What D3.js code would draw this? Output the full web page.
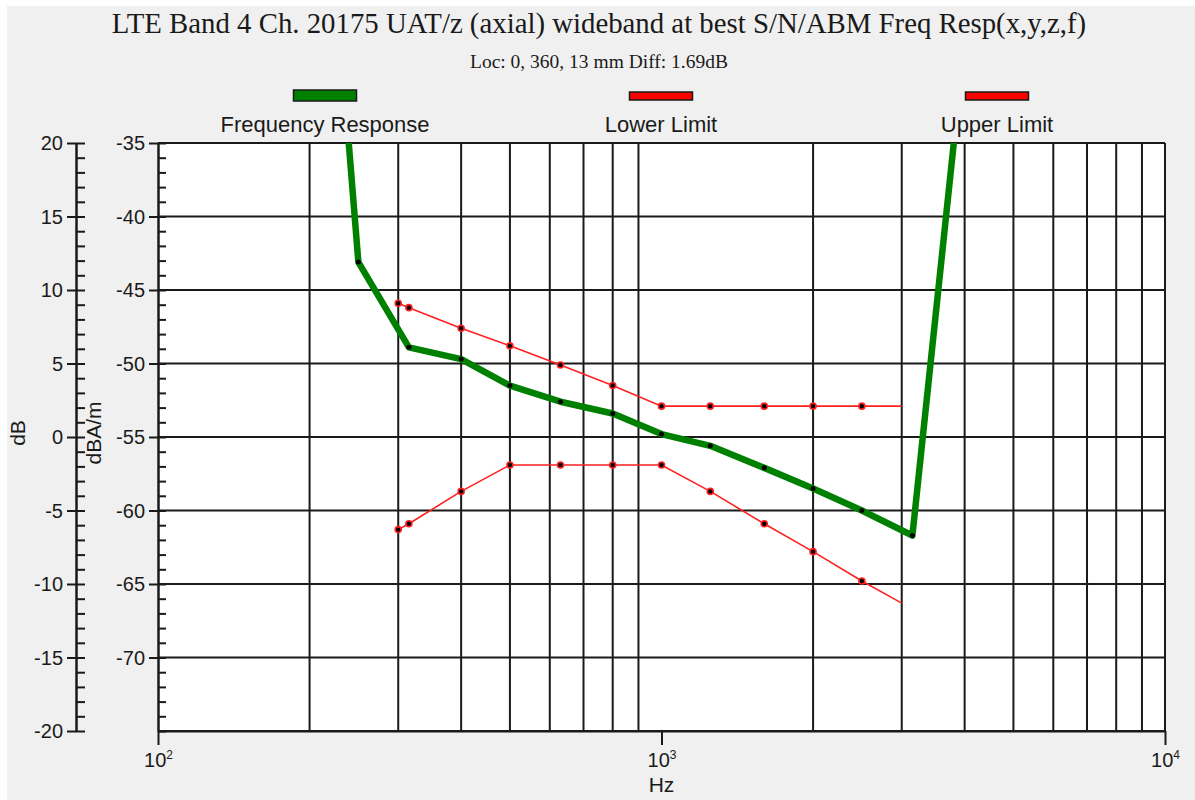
<!DOCTYPE html>
<html>
<head>
<meta charset="utf-8">
<script src="https://cdn.jsdelivr.net/npm/d3@7"></script>
<style>
  html, body { margin: 0; padding: 0; background: #ffffff; }
  svg { display: block; }
</style>
</head>
<body>
<svg id="chart" width="1195" height="800"></svg>
<script>
// ---------------- data ----------------
const titleText = "LTE Band 4 Ch. 20175 UAT/z (axial) wideband at best S/N/ABM Freq Resp(x,y,z,f)";
const subtitleText = "Loc: 0, 360, 13 mm Diff: 1.69dB";
const seriesNames = ["Frequency Response", "Lower Limit", "Upper Limit"];

const respFreq   = [200, 250, 315, 400, 500, 630, 800, 1000, 1250, 1600, 2000, 2500, 3150, 4000];
const respValues = [-2, -43.1, -48.9, -49.7, -51.5, -52.6, -53.4, -54.8, -55.6, -57.1, -58.5, -60.0, -61.7, -28];

const upperFreq   = [300, 315, 400, 500, 630, 800, 1000, 1250, 1600, 2000, 2500, 3000];
const upperValues = [-45.9, -46.2, -47.6, -48.8, -50.1, -51.5, -52.9, -52.9, -52.9, -52.9, -52.9, -52.9];

const lowerFreq   = [300, 315, 400, 500, 630, 800, 1000, 1250, 1600, 2000, 2500, 3000];
const lowerValues = [-61.3, -60.9, -58.7, -56.9, -56.9, -56.9, -56.9, -58.7, -60.9, -62.8, -64.8, -66.3];

const dBATicks = [-75, -70, -65, -60, -55, -50, -45, -40, -35];
const dBTicks  = [-20, -15, -10, -5, 0, 5, 10, 15, 20];
const decadeTicks = [100, 1000, 10000];
const decadeExp = ["2", "3", "4"];
const minorFreqTicks = [200, 300, 400, 500, 600, 700, 800, 900, 2000, 3000, 4000, 5000, 6000, 7000, 8000, 9000];

// ---------------- layout ----------------
const svg = d3.select("#chart");
const W = 1195, H = 800;
const plot = { left: 158, right: 1165, top: 143, bottom: 731 };
const sansFont = "'Liberation Sans', Arial, sans-serif";
const serifFont = "'Liberation Serif', 'Times New Roman', serif";
const textColor = "#1a1a1a";
const plainFmt = d => String(d);

svg.append("rect").attr("x", 7).attr("y", 6).attr("width", W - 7).attr("height", H - 6).attr("fill", "#f0f0f0");

const x = d3.scaleLog().domain([100, 10000]).range([plot.left, plot.right]);
const y = d3.scaleLinear().domain([-75, -35]).range([plot.bottom, plot.top]);
const yDb = d3.scaleLinear().domain([-20, 20]).range([plot.bottom, plot.top]);

// plot background
svg.append("rect").attr("x", plot.left).attr("y", plot.top)
  .attr("width", plot.right - plot.left).attr("height", plot.bottom - plot.top).attr("fill", "#ffffff");

// grid
const grid = svg.append("g").attr("stroke", "#1a1a1a").attr("stroke-width", 2);
grid.selectAll("line.v").data(minorFreqTicks.concat([10000])).enter().append("line")
  .attr("x1", d => x(d)).attr("x2", d => x(d)).attr("y1", plot.top).attr("y2", plot.bottom);
grid.selectAll("line.h").data(dBATicks).enter().append("line")
  .attr("x1", plot.left).attr("x2", plot.right).attr("y1", d => y(d)).attr("y2", d => y(d));

// clip
svg.append("clipPath").attr("id", "clip").append("rect")
  .attr("x", plot.left).attr("y", plot.top).attr("width", plot.right - plot.left).attr("height", plot.bottom - plot.top);

function styleAxis(g) {
  g.selectAll(".domain").attr("stroke", "#1a1a1a").attr("stroke-width", 2);
  g.selectAll(".tick line").attr("stroke", "#1a1a1a").attr("stroke-width", 2);
  g.selectAll(".tick text").attr("fill", textColor).attr("font-family", sansFont).attr("font-size", 20);
}

// left dB axis
const minorDb = d3.range(-20, 21, 1);
const gDbMinor = svg.append("g").attr("transform", "translate(76,0)")
  .call(d3.axisRight(yDb).tickValues(minorDb).tickSize(9).tickFormat("").tickSizeOuter(0));
styleAxis(gDbMinor);
const gDb = svg.append("g").attr("transform", "translate(76,0)")
  .call(d3.axisLeft(yDb).tickValues(dBTicks).tickSize(9).tickPadding(4).tickSizeOuter(0).tickFormat(plainFmt));
styleAxis(gDb);
gDb.selectAll(".tick text").attr("dy", "0.34em");

// right dBA/m axis (at plot left)
const minorDbA = d3.range(-75, -34, 1);
const gAMinor = svg.append("g").attr("transform", `translate(${plot.left},0)`)
  .call(d3.axisRight(y).tickValues(minorDbA).tickSize(8).tickFormat("").tickSizeOuter(0));
styleAxis(gAMinor);
const gA = svg.append("g").attr("transform", `translate(${plot.left},0)`)
  .call(d3.axisLeft(y).tickValues(dBATicks.filter(d => d !== -75)).tickSize(9).tickPadding(4).tickSizeOuter(0).tickFormat(plainFmt));
styleAxis(gA);
gA.selectAll(".tick text").attr("dy", "0.34em");

// bottom axis
const gX = svg.append("g").attr("transform", `translate(0,${plot.bottom})`)
  .call(d3.axisBottom(x).tickValues(decadeTicks).tickSize(14).tickPadding(6).tickSizeOuter(0).tickFormat(""));
styleAxis(gX);
gX.selectAll(".tick").each(function(d, i) {
  const t = d3.select(this).append("text")
    .attr("y", 36).attr("text-anchor", "middle")
    .attr("fill", textColor).attr("font-family", sansFont).attr("font-size", 20);
  t.append("tspan").text("10");
  t.append("tspan").attr("dy", -8).attr("font-size", 12).text(decadeExp[i]);
});

// axis titles
svg.append("text").attr("transform", "translate(25,433) rotate(-90)").attr("text-anchor", "middle")
  .attr("font-family", sansFont).attr("font-size", 21).attr("fill", textColor).text("dB");
svg.append("text").attr("transform", "translate(101,433) rotate(-90)").attr("text-anchor", "middle")
  .attr("font-family", sansFont).attr("font-size", 21).attr("fill", textColor).text("dBA/m");
svg.append("text").attr("x", x(1000)).attr("y", 792).attr("text-anchor", "middle")
  .attr("font-family", sansFont).attr("font-size", 21).attr("fill", textColor).text("Hz");

// titles
svg.append("text").attr("x", 599).attr("y", 33).attr("text-anchor", "middle")
  .attr("font-family", serifFont).attr("font-size", 28.8).attr("fill", textColor).text(titleText);
svg.append("text").attr("x", 599).attr("y", 68).attr("text-anchor", "middle")
  .attr("font-family", serifFont).attr("font-size", 19.5).attr("fill", textColor).text(subtitleText);

// legend
const legendCenters = [325, 661, 997];
const legendStyles = [
  { fill: "#008000", h: 11, y: 90 },
  { fill: "#ff0000", h: 8, y: 92 },
  { fill: "#ff0000", h: 8, y: 92 }
];
seriesNames.forEach((name, i) => {
  const s = legendStyles[i];
  svg.append("rect").attr("x", legendCenters[i] - 31.5).attr("y", s.y).attr("width", 63).attr("height", s.h)
    .attr("fill", s.fill).attr("stroke", "#1a1a1a").attr("stroke-width", 1.5);
  svg.append("text").attr("x", legendCenters[i]).attr("y", 132).attr("text-anchor", "middle")
    .attr("font-family", sansFont).attr("font-size", 22).attr("fill", textColor).text(name);
});

// series
const layer = svg.append("g").attr("clip-path", "url(#clip)");
const line = d3.line().x(d => x(d[0])).y(d => y(d[1]));

const upper = upperFreq.map((f, i) => [f, upperValues[i]]);
const lower = lowerFreq.map((f, i) => [f, lowerValues[i]]);
const resp = respFreq.map((f, i) => [f, respValues[i]]);

[upper, lower].forEach(data => {
  layer.append("path").datum(data).attr("d", line).attr("fill", "none")
    .attr("stroke", "#ff2020").attr("stroke-width", 1.6);
});
layer.append("path").datum(resp).attr("d", line).attr("fill", "none")
  .attr("stroke", "#008000").attr("stroke-width", 6.5).attr("stroke-linejoin", "round");

[upper, lower].forEach(data => {
  layer.selectAll(null).data(data.slice(0, data.length - 1)).enter().append("circle")
    .attr("cx", d => x(d[0])).attr("cy", d => y(d[1])).attr("r", 3)
    .attr("fill", "#000").attr("stroke", "#ff2020").attr("stroke-width", 1.6);
});
layer.selectAll(null).data(resp).enter().append("circle")
  .attr("cx", d => x(d[0])).attr("cy", d => y(d[1])).attr("r", 2.5).attr("fill", "#000");
</script>
</body>
</html>
